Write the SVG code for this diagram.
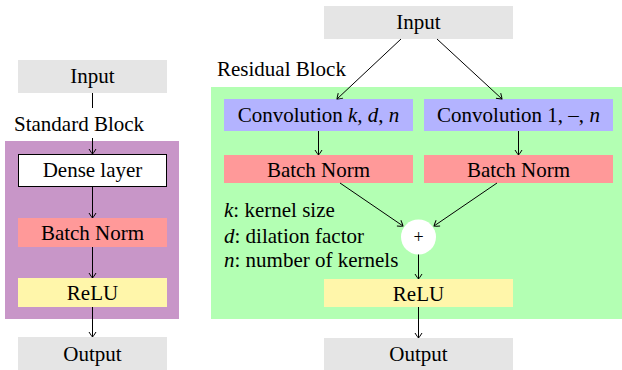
<svg xmlns="http://www.w3.org/2000/svg" width="622" height="370" viewBox="0 0 622 370" font-family="Liberation Serif, Times New Roman, DejaVu Serif, serif" font-size="21">
  <style>
    text { fill: #000; text-anchor: middle; }
    .lbl { text-anchor: start; }
    .io { fill: #e5e5e5; }
    .bn { fill: #ff9999; }
    .relu { fill: #fff6aa; }
    .conv { fill: #b3b3ff; }
    .conn line { stroke: #000; stroke-width: 1; marker-end: url(#tip); }
    .conn line.plain { marker-end: none; }
  </style>
  <defs>
    <marker id="tip" viewBox="-6 -5 7 10" markerWidth="7" markerHeight="10" refX="0" refY="0" orient="auto" markerUnits="userSpaceOnUse">
      <path d="M-5,-3.5 Q-1,-1 0,0 Q-1,1 -5,3.5" fill="none" stroke="#000" stroke-width="1"/>
    </marker>
  </defs>

  <!-- Standard block -->
  <g id="standard-block">
    <rect x="5" y="141" width="174" height="178" fill="#c896c8"/>
    <text class="lbl" x="14" y="131">Standard Block</text>
  </g>
  <g id="std-input"><rect class="io" x="18" y="60" width="149" height="33"/><text x="92.5" y="83">Input</text></g>
  <g id="std-dense"><rect x="18.5" y="154.5" width="148" height="32" fill="#fff" stroke="#000" stroke-width="1"/><text x="92.5" y="177">Dense layer</text></g>
  <g id="std-bn"><rect class="bn" x="18" y="218" width="149" height="29"/><text x="92.5" y="240">Batch Norm</text></g>
  <g id="std-relu"><rect class="relu" x="18" y="278" width="149" height="29"/><text x="92.5" y="300">ReLU</text></g>
  <g id="std-output"><rect class="io" x="18" y="337" width="149" height="33"/><text x="92.5" y="361">Output</text></g>

  <!-- Residual block -->
  <g id="residual-block">
    <rect x="211" y="87" width="411" height="232" fill="#b3ffb3"/>
    <text class="lbl" x="217" y="76">Residual Block</text>
  </g>
  <g id="res-input"><rect class="io" x="324" y="6" width="189" height="33"/><text x="418.5" y="29">Input</text></g>
  <g id="res-conv-a"><rect class="conv" x="224" y="99" width="189" height="32"/><text x="318.5" y="122">Convolution <tspan font-style="italic">k</tspan>, <tspan font-style="italic">d</tspan>, <tspan font-style="italic">n</tspan></text></g>
  <g id="res-conv-b"><rect class="conv" x="424" y="99" width="189" height="32"/><text x="518.5" y="122">Convolution 1, –, <tspan font-style="italic">n</tspan></text></g>
  <g id="res-bn-a"><rect class="bn" x="224" y="155" width="189" height="28"/><text x="318.5" y="177">Batch Norm</text></g>
  <g id="res-bn-b"><rect class="bn" x="424" y="155" width="189" height="28"/><text x="518.5" y="177">Batch Norm</text></g>
  <g id="res-sum"><circle cx="418.5" cy="237" r="17.5" fill="#fff"/><text x="418.5" y="243" font-size="18">+</text></g>
  <g id="res-relu"><rect class="relu" x="324" y="279" width="189" height="28"/><text x="418.5" y="301">ReLU</text></g>
  <g id="res-output"><rect class="io" x="324" y="338" width="189" height="32"/><text x="418.5" y="361">Output</text></g>
  <g id="legend">
    <text class="lbl" x="224" y="217"><tspan font-style="italic">k</tspan>: kernel size</text>
    <text class="lbl" x="224" y="243"><tspan font-style="italic">d</tspan>: dilation factor</text>
    <text class="lbl" x="224" y="267"><tspan font-style="italic">n</tspan>: number of kernels</text>
  </g>

  <!-- Connectors -->
  <g class="conn">
    <line class="plain" x1="92.5" y1="93" x2="92.5" y2="108"/>
    <line x1="92.5" y1="138" x2="92.5" y2="154"/>
    <line x1="92.5" y1="187" x2="92.5" y2="218"/>
    <line x1="92.5" y1="247" x2="92.5" y2="278"/>
    <line x1="92.5" y1="307" x2="92.5" y2="337"/>

    <line x1="401" y1="39" x2="337" y2="99"/>
    <line x1="437" y1="39" x2="502" y2="99"/>
    <line x1="318.5" y1="131" x2="318.5" y2="155"/>
    <line x1="518.5" y1="131" x2="518.5" y2="155"/>
    <line x1="340" y1="183" x2="403" y2="226"/>
    <line x1="497" y1="183" x2="434" y2="226"/>
    <line x1="418.5" y1="254.5" x2="418.5" y2="279"/>
    <line x1="418.5" y1="307" x2="418.5" y2="338"/>
  </g>
</svg>
